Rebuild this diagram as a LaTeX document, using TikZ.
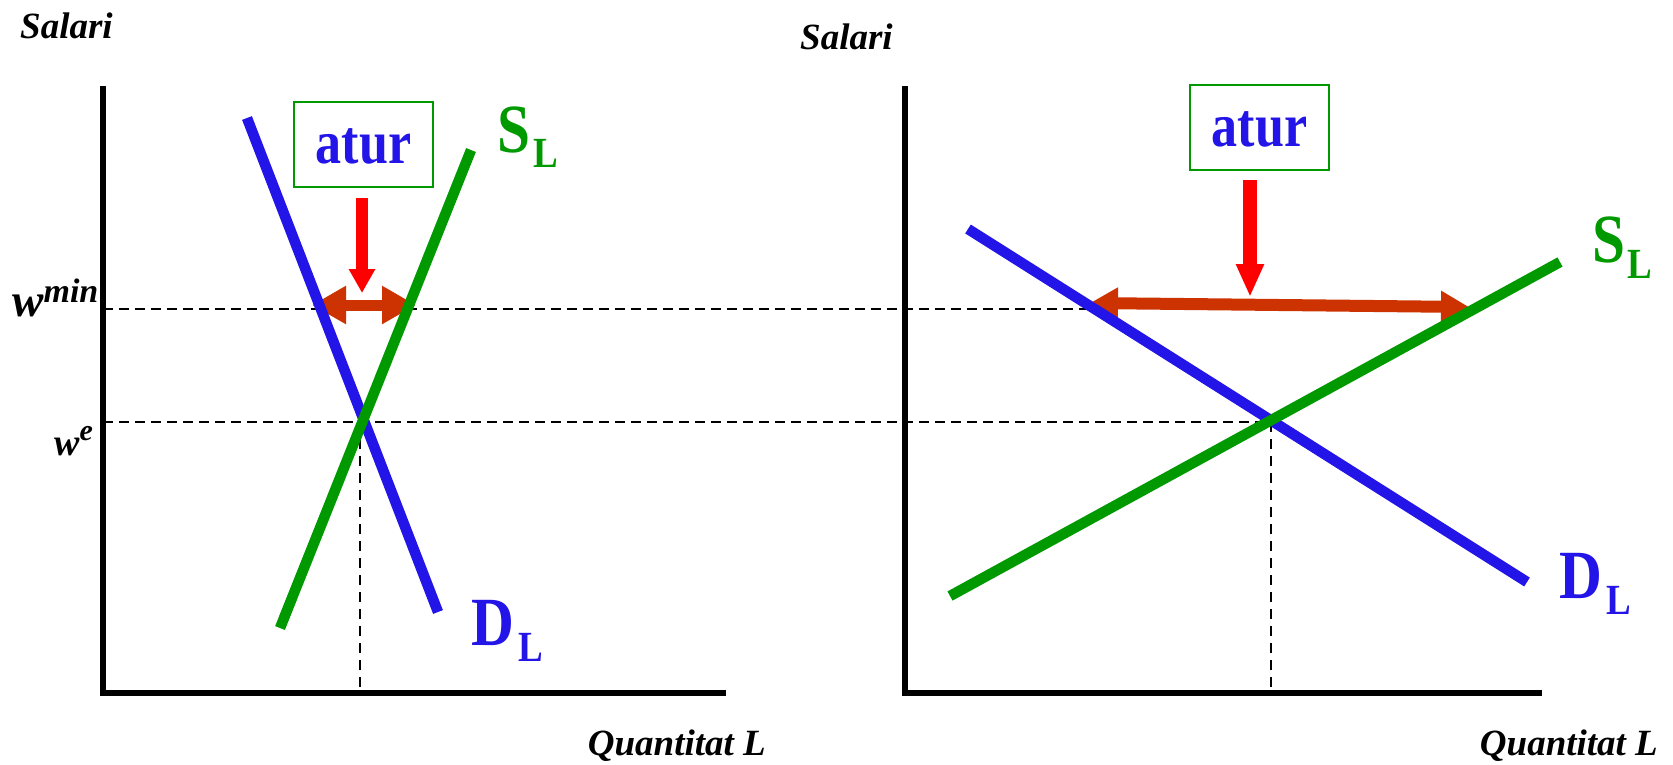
\documentclass[tikz,border=0pt]{standalone}
\usepackage{fontspec}
\setmainfont{Liberation Serif}
\newfontfamily\lblfont[FakeStretch=0.86]{Liberation Serif}
\newfontfamily\aturfont[FakeStretch=0.84]{Liberation Serif}
\usetikzlibrary{arrows.meta}
\definecolor{cgreen}{RGB}{0,153,0}
\definecolor{cblue}{RGB}{35,20,232}
\definecolor{corange}{RGB}{204,51,0}
\definecolor{cred}{RGB}{255,0,0}
\begin{document}
\begin{tikzpicture}[x=1pt,y=-1pt,
  axis/.style={line width=5.5pt},
  dashline/.style={line width=2.6pt, dash pattern=on 10pt off 6pt},
  vdashline/.style={line width=2.6pt, dash pattern=on 10pt off 7pt},
  supply/.style={cgreen, line width=10.5pt},
  demand/.style={cblue, line width=10.5pt},
  axlabel/.style={inner sep=0pt, font=\fontsize{37}{40}\selectfont\bfseries\itshape},
  bigl/.style={inner sep=0pt, anchor=base west, font=\lblfont\fontsize{69}{72}\selectfont\bfseries},
  subl/.style={inner sep=0pt, anchor=base west, font=\lblfont\fontsize{43}{46}\selectfont\bfseries},
  aturbox/.style={draw=cgreen, line width=2pt, text=cblue, minimum width=139pt,
    minimum height=85pt, inner sep=0pt, text height=38pt, text depth=0pt,
    font=\aturfont\fontsize{62}{66}\selectfont\bfseries},
  gap/.style={corange, line width=11pt},
  downarrow/.style={cred, line width=12.5pt},
]
\useasboundingbox (0,0) rectangle (1673,764);

% ---------- coordinates ----------
\coordinate (LO) at (103,693);
\coordinate (LY) at (103,86);
\coordinate (LX) at (726,693);
\coordinate (RO) at (905,693);
\coordinate (RY) at (905,86);
\coordinate (RX) at (1542,693);

\coordinate (LD1) at (247,118);  \coordinate (LD2) at (438,612);
\coordinate (LS1) at (471,150);  \coordinate (LS2) at (280,628);
\coordinate (RD1) at (968,229);  \coordinate (RD2) at (1527,582);
\coordinate (RS1) at (1560,262); \coordinate (RS2) at (950,596);

\coordinate (wminA) at (103,309); \coordinate (wminB) at (1092,309);
\coordinate (weA) at (103,422);   \coordinate (weB) at (1271,422);
\coordinate (LEq) at (360,422);   \coordinate (LEqX) at (360,693);
\coordinate (REq) at (1271,422);  \coordinate (REqX) at (1271,693);

\coordinate (LG1) at (312,305);  \coordinate (LG2) at (416,305);
\coordinate (RG1) at (1090,303); \coordinate (RG2) at (1469,307);

% ---------- dashed guide lines ----------
\draw[dashline] (wminA) -- (wminB);
\draw[dashline] (weA) -- (weB);
\draw[vdashline] (LEq) -- (LEqX);
\draw[vdashline] (REq) -- (REqX);

% ---------- unemployment gaps ----------
\draw[gap, {Triangle[length=34pt,width=36pt]}-{Triangle[length=34pt,width=36pt]}] (LG1) -- (LG2);
\draw[gap, line width=12pt, {Triangle[length=28pt,width=30pt]}-{Triangle[length=28pt,width=30pt]}] (RG1) -- (RG2);

% ---------- curves ----------
\draw[demand] (LD1) -- (LD2);
\draw[supply] (LS1) -- (LS2);
\draw[demand] (RD1) -- (RD2);
\draw[supply] (RS1) -- (RS2);

% ---------- axes ----------
\draw[axis] (LY) -- (LO) -- (LX);
\draw[axis] (RY) -- (RO) -- (RX);

% ---------- axis labels ----------
\node[axlabel, anchor=base west] (salL) at (20,38) {Salari};
\node[axlabel, anchor=base west] (salR) at (800,49) {Salari};
\node[axlabel, anchor=base east] (qL) at (766,755) {Quantitat L};
\node[axlabel, anchor=base east] (qR) at (1658,755) {Quantitat L};
\node[inner sep=0pt, anchor=base west, font=\bfseries\itshape] (wmin) at (12,316)
  {\fontsize{47}{50}\selectfont w\raisebox{14pt}{\fontsize{34}{36}\selectfont min}};
\node[inner sep=0pt, anchor=base west, font=\bfseries\itshape] (we) at (54,455)
  {\fontsize{38}{40}\selectfont w\raisebox{15pt}{\fontsize{30}{32}\selectfont e}};

% ---------- curve labels ----------
\node[bigl, cgreen] (SL1) at (497,152) {S};
\node[subl, cgreen] (SL1s) at (533,167) {L};
\node[bigl, cblue] (DL1) at (471,645) {D};
\node[subl, cblue] (DL1s) at (518,661) {L};
\node[bigl, cgreen] (SL2) at (1592,262) {S};
\node[subl, cgreen] (SL2s) at (1627,278) {L};
\node[bigl, cblue] (DL2) at (1559,598) {D};
\node[subl, cblue] (DL2s) at (1606,614) {L};

% ---------- atur boxes and arrows ----------
\node[aturbox] (aturL) at (363.5,144.5) {atur};
\node[aturbox] (aturR) at (1259.5,127.5) {atur};
\coordinate (aL1) at (362,198);  \coordinate (aL2) at (362,293);
\coordinate (aR1) at (1250,180); \coordinate (aR2) at (1250,297);
\draw[downarrow, -{Triangle[length=24pt,width=25pt]}] (aL1) -- (aL2);
\draw[downarrow, line width=14pt, -{Triangle[length=33pt,width=26pt]}] (aR1) -- (aR2);
\end{tikzpicture}
\end{document}
